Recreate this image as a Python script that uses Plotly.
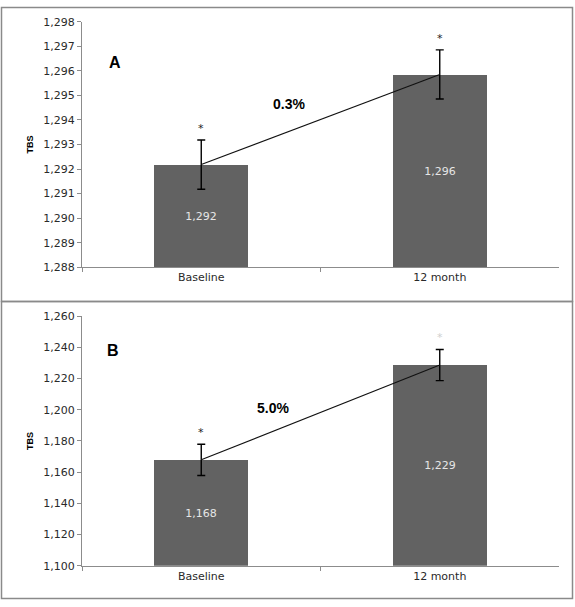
import plotly.graph_objects as go

categories = ["Baseline", "12 month"]

# Panel A
a_values = [1292.18, 1295.85]
a_errors = [1.0, 1.0]
a_labels = ["1,292", "1,296"]
a_range = [1288, 1298]
a_dtick = 1
a_change = "0.3%"

# Panel B
b_values = [1167.9, 1228.7]
b_errors = [10, 10]
b_labels = ["1,168", "1,229"]
b_range = [1100, 1260]
b_dtick = 20
b_change = "5.0%"

BAR = "#626262"
AX = "#8c8c8c"
TXT = "#2a2a2a"

fig = go.Figure()

W, H = 575, 607
x_dom = [82 / W, 559 / W]
a_dom = [1 - 267 / H, 1 - 16 / H]
b_dom = [1 - 572 / H, 1 - 317 / H]


def add_panel(values, errors, labels, yrange, xa, ya):
    base = yrange[0]
    fig.add_trace(go.Bar(
        x=categories, y=[v - base for v in values], base=base,
        marker=dict(color=BAR, line=dict(width=0)), width=0.395,
        text=labels, textposition="inside", insidetextanchor="middle",
        textfont=dict(family="DejaVu Sans", size=11, color="#e6e6e6"),
        xaxis=xa, yaxis=ya, showlegend=False, hoverinfo="skip",
    ))
    fig.add_trace(go.Scatter(
        x=categories, y=values, mode="lines",
        line=dict(color="#111111", width=1.1),
        error_y=dict(type="data", array=errors, visible=True,
                     color="#000000", thickness=1.4, width=4),
        xaxis=xa, yaxis=ya, showlegend=False, hoverinfo="skip",
    ))


add_panel(a_values, a_errors, a_labels, a_range, "x", "y")
add_panel(b_values, b_errors, b_labels, b_range, "x2", "y2")

xcommon = dict(
    type="category", range=[-0.5, 1.5], showline=True, linecolor=AX, linewidth=1,
    ticks="outside", tickson="boundaries", ticklen=4, tickcolor=AX,
    tickfont=dict(family="DejaVu Sans", size=11, color=TXT),
    showgrid=False, zeroline=False, fixedrange=True,
)
ycommon = dict(
    showline=True, linecolor=AX, linewidth=1, ticks="outside", ticklen=4,
    tickcolor=AX, tickformat=",d", showgrid=False, zeroline=False, fixedrange=True,
    tickfont=dict(family="DejaVu Sans", size=11, color=TXT),
    title=dict(text="<b>TBS</b>", font=dict(family="Liberation Sans", size=9, color="#000"),
               standoff=8),
)

fig.update_layout(
    width=W, height=H,
    margin=dict(l=0, r=0, t=0, b=0),
    paper_bgcolor="white", plot_bgcolor="white",
    bargap=0,
    xaxis=dict(domain=x_dom, anchor="y", **xcommon),
    yaxis=dict(domain=a_dom, anchor="x", range=a_range, dtick=a_dtick, **ycommon),
    xaxis2=dict(domain=x_dom, anchor="y2", **xcommon),
    yaxis2=dict(domain=b_dom, anchor="x2", range=b_range, dtick=b_dtick, **ycommon),
)

# Panel borders
fig.add_shape(type="rect", xref="paper", yref="paper",
              x0=1.5 / W, x1=572.5 / W, y0=1 - 302 / H, y1=1 - 1.5 / H,
              line=dict(color="#8a8a8a", width=1.5), layer="below")
fig.add_shape(type="rect", xref="paper", yref="paper",
              x0=1.5 / W, x1=572.5 / W, y0=1 - 605.5 / H, y1=1 - 302 / H,
              line=dict(color="#8a8a8a", width=1.5), layer="below")

# Panel letters
fig.add_annotation(text="<b>A</b>", xref="paper", yref="paper", x=106.5 / W, y=1 - 46.7 / H,
                   showarrow=False, font=dict(family="Liberation Sans", size=16, color="#000"))
fig.add_annotation(text="<b>B</b>", xref="paper", yref="paper", x=105 / W, y=1 - 351.7 / H,
                   showarrow=False, font=dict(family="Liberation Sans", size=16, color="#000"))

# Percent change labels
fig.add_annotation(text="<b>" + a_change + "</b>", xref="x", yref="y", x=0.368, y=1294.63,
                   showarrow=False, font=dict(family="Liberation Sans", size=14, color="#000"))
fig.add_annotation(text="<b>" + b_change + "</b>", xref="x2", yref="y2", x=0.30, y=1201,
                   showarrow=False, font=dict(family="Liberation Sans", size=14, color="#000"))

# Asterisks above error bars
star_colors_a = ["#222222", "#222222"]
star_colors_b = ["#222222", "#cfcfcf"]
for i, c in enumerate(categories):
    fig.add_annotation(text="*", xref="x", yref="y", x=c, y=a_values[i] + a_errors[i],
                       yanchor="bottom", yshift=3, showarrow=False,
                       font=dict(family="DejaVu Sans", size=11, color=star_colors_a[i]))
    fig.add_annotation(text="*", xref="x2", yref="y2", x=c, y=b_values[i] + b_errors[i],
                       yanchor="bottom", yshift=3, showarrow=False,
                       font=dict(family="DejaVu Sans", size=11, color=star_colors_b[i]))

fig.write_html("out.html", config={"displayModeBar": False},
               post_script="document.body.style.margin='0';document.body.style.overflow='hidden';")
